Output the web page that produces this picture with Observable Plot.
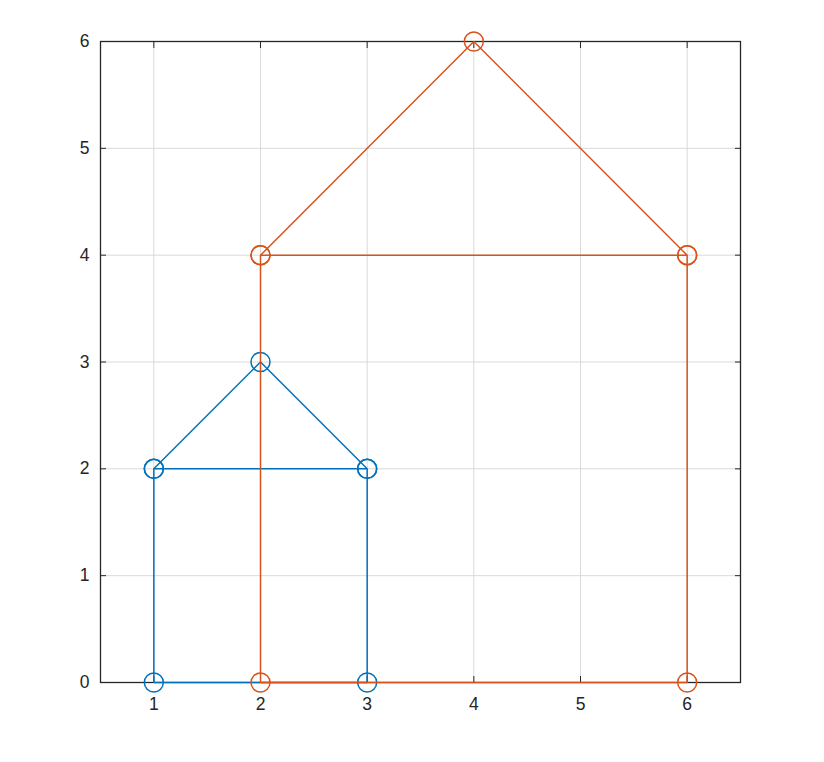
<!DOCTYPE html>
<html><head><meta charset="utf-8">
<script src="https://cdn.jsdelivr.net/npm/d3@7"></script>
<script src="https://cdn.jsdelivr.net/npm/@observablehq/plot@0.6"></script>
<style>body{margin:0;background:#fff}</style>
</head><body><div id="chart"></div>
<script>
const xTicks = [1, 2, 3, 4, 5, 6];
const yTicks = [0, 1, 2, 3, 4, 5, 6];
const smallX = [1, 1, 3, 3, 1, 2, 3];
const smallY = [2, 0, 0, 2, 2, 3, 2];
const bigX = [2, 2, 6, 6, 2, 4, 6];
const bigY = [4, 0, 0, 4, 4, 6, 4];
const blue = "#0072BD";
const red = "#D95319";
const axisColor = "#262626";

const small = smallX.map((x, i) => ({x, y: smallY[i]}));
const big = bigX.map((x, i) => ({x, y: bigY[i]}));
const fmt = d => String(d);

const chart = Plot.plot({
  width: 824, height: 762,
  marginLeft: 100, marginRight: 84, marginTop: 41, marginBottom: 80,
  x: {domain: [0.5, 6.5], label: null},
  y: {domain: [0, 6], label: null},
  style: {fontFamily: "'Liberation Sans', Arial, sans-serif", fontSize: "17.5px", color: axisColor, background: "#fff"},
  marks: [
    Plot.gridX(xTicks, {stroke: "#d9d9d9", strokeOpacity: 1}),
    Plot.gridY(yTicks, {stroke: "#d9d9d9", strokeOpacity: 1}),
    Plot.frame({stroke: axisColor, strokeWidth: 1.3}),
    Plot.axisX(xTicks, {anchor: "bottom", tickSize: -6, tickFormat: () => "", label: null, stroke: axisColor}),
    Plot.axisX(xTicks, {anchor: "top", tickSize: -6, tickFormat: () => "", label: null, stroke: axisColor}),
    Plot.axisY(yTicks, {anchor: "left", tickSize: -6, tickFormat: () => "", label: null, stroke: axisColor}),
    Plot.axisY(yTicks, {anchor: "right", tickSize: -6, tickFormat: () => "", label: null, stroke: axisColor}),
    Plot.axisX(xTicks, {anchor: "bottom", tickSize: 0, tickPadding: 15, tickFormat: fmt, label: null, fill: axisColor, fontSize: 17.5}),
    Plot.axisY(yTicks, {anchor: "left", tickSize: 0, tickPadding: 11, tickFormat: fmt, label: null, fill: axisColor, fontSize: 17.5}),
    Plot.line(small, {x: "x", y: "y", stroke: blue, strokeWidth: 1.5}),
    Plot.dot(small, {x: "x", y: "y", r: 9.5, stroke: blue, strokeWidth: 1.5, fill: "none"}),
    Plot.line(big, {x: "x", y: "y", stroke: red, strokeWidth: 1.5}),
    Plot.dot(big, {x: "x", y: "y", r: 9.5, stroke: red, strokeWidth: 1.5, fill: "none"})
  ]
});
document.getElementById("chart").append(chart);
</script>
</body></html>
